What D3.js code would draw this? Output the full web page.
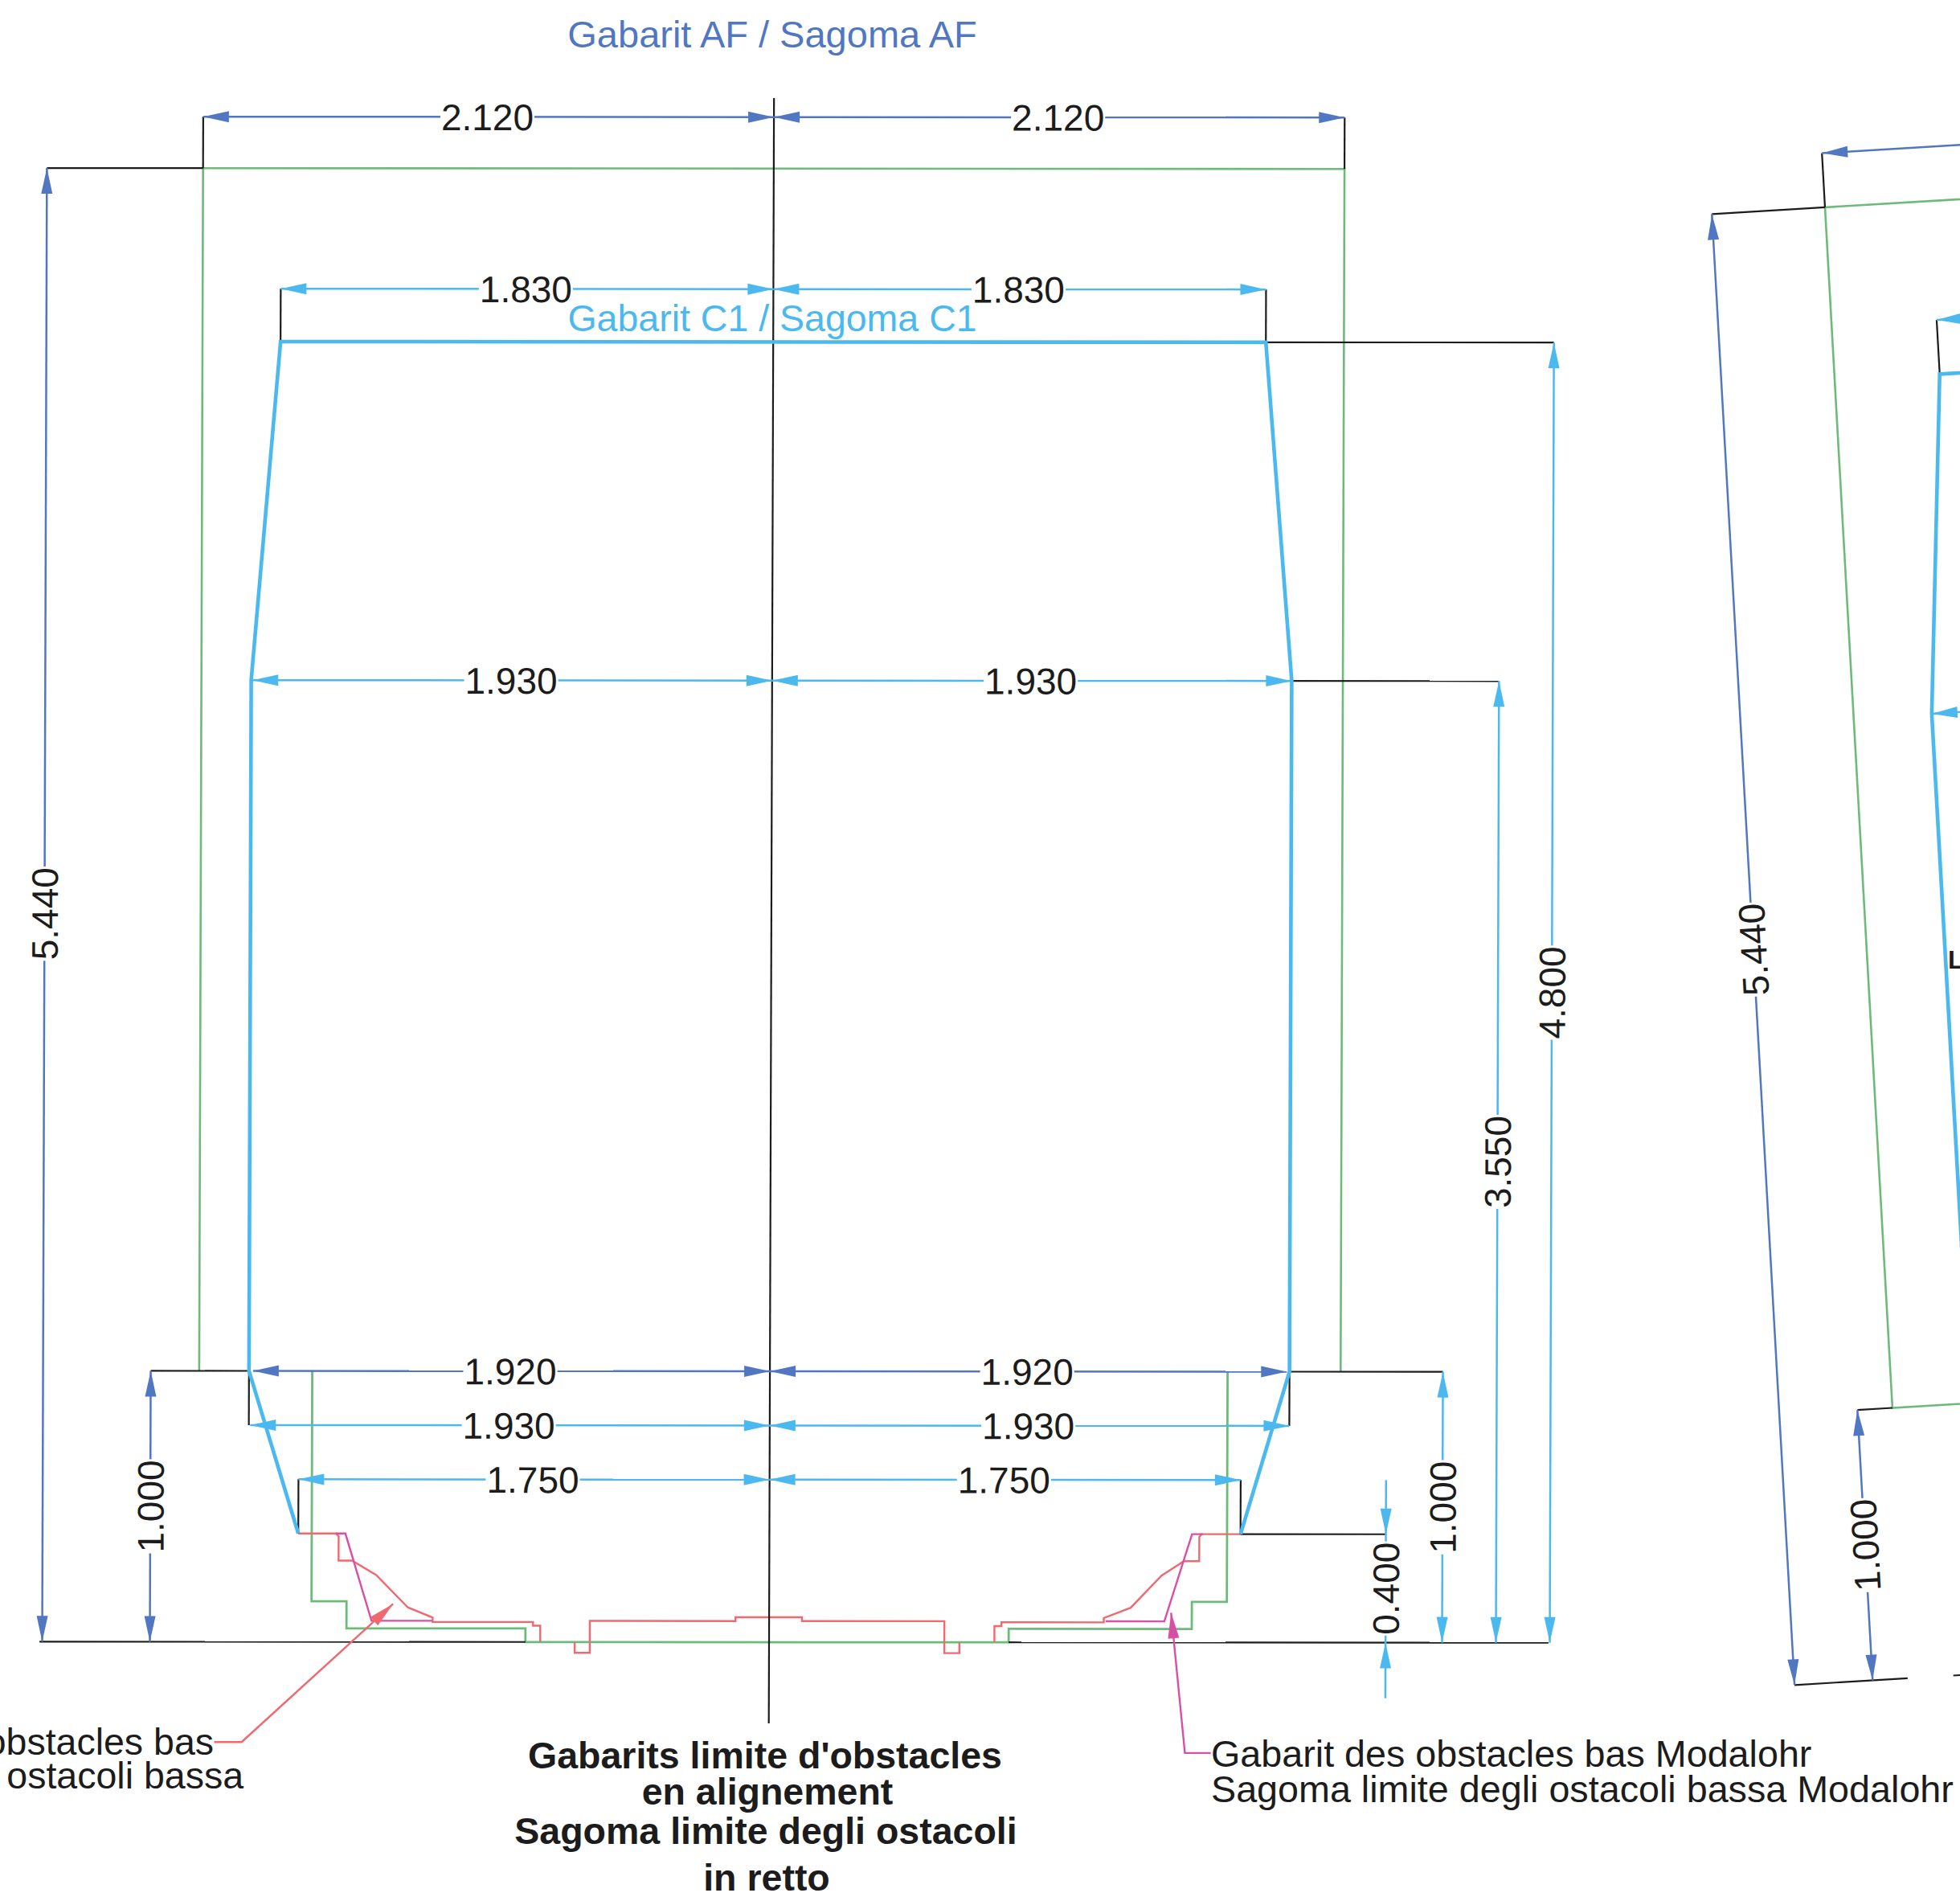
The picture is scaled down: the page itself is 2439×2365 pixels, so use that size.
<!DOCTYPE html>
<html>
<head>
<meta charset="utf-8">
<script src="https://d3js.org/d3.v7.min.js"></script>
<style>
  body { margin: 0; background: #fff; }
  svg { display: block; background: #fff; }
  text { font-family: "Liberation Sans", Arial, sans-serif; fill: #1c1c1c; }
  .outline { fill: none; stroke-linejoin: miter; }
  .num { font-size: 46px; text-anchor: middle; }
</style>
</head>
<body>
<svg id="canvas" width="2439" height="2365"></svg>
<script>
"use strict"

// all values in metres, half-width X from the track axis, height Y above the rail
const gabaritAF = [[-2.12, 1], [-2.12, 5.44], [2.12, 5.44], [2.12, 1]]
const gabaritC1 = [[-1.75, 0.4], [-1.935, 1], [-1.935, 3.55], [-1.83, 4.8], [1.83, 4.8], [1.93, 3.55], [1.93, 1], [1.75, 0.4]]
const lowGreen = [[-1.7, 1], [-1.7, 0.15], [-1.57, 0.15], [-1.57, 0.05], [-0.905, 0.05], [-0.905, 0], [0.89, 0], [0.89, 0.05], [1.57, 0.05], [1.57, 0.15], [1.7, 0.15], [1.7, 1]]
const lowRedLeft = [[-1.75, 0.4], [-1.61, 0.4], [-1.6, 0.39], [-1.6, 0.3], [-1.55, 0.3], [-1.46, 0.247], [-1.343, 0.128], [-1.25, 0.09], [-1.25, 0.074], [-0.877, 0.074], [-0.877, 0.06], [-0.85, 0.06], [-0.85, 0]]
const lowRedMiddle = [[-0.722, 0], [-0.722, -0.04], [-0.666, -0.04], [-0.666, 0.078], [-0.125, 0.078], [-0.125, 0.092], [0.122, 0.092], [0.122, 0.078], [0.651, 0.078], [0.651, -0.04], [0.707, -0.04], [0.707, 0]]
const lowRedRight = [[0.837, 0], [0.837, 0.06], [0.863, 0.06], [0.863, 0.074], [1.243, 0.074], [1.243, 0.09], [1.343, 0.128], [1.457, 0.247], [1.54, 0.3], [1.597, 0.3], [1.597, 0.39], [1.606, 0.4], [1.75, 0.4]]
const modalohrLeft = [[-1.61, 0.4], [-1.575, 0.4], [-1.477, 0.078], [-1.25, 0.078]]
const modalohrRight = [[1.25, 0.078], [1.468, 0.078], [1.57, 0.4], [1.61, 0.4]]

const blueWidths = [[2.12, 5.63, "2.120"], [1.92, 1, "1.920"]]
const cyanWidths = [[1.83, 4.995, "1.830"], [1.93, 3.55, "1.930"], [1.93, 0.8, "1.930"], [1.75, 0.6, "1.750"]]
const blueHeights = [[-2.7, 5.44, "5.440"], [-2.3, 1, "1.000"]]
const cyanHeights = [[2.9, 4.8, "4.800"], [2.7, 3.55, "3.550"], [2.5, 1, "1.000"]]
const extensionLines = [
  [[-2.7, 5.44], [-2.12, 5.44]], [[-2.12, 5.44], [-2.12, 5.63]], [[2.12, 5.44], [2.12, 5.63]],
  [[-1.83, 4.8], [-1.83, 4.995]], [[1.83, 4.8], [1.83, 4.995]], [[1.83, 4.8], [2.9, 4.8]],
  [[1.93, 3.55], [2.7, 3.55]], [[1.93, 1], [2.5, 1]], [[-2.3, 1], [-1.935, 1]],
  [[-1.935, 1], [-1.935, 0.8]], [[1.93, 1], [1.93, 0.8]],
  [[-1.75, 0.4], [-1.75, 0.6]], [[1.75, 0.4], [1.75, 0.6]], [[1.75, 0.4], [2.29, 0.4]],
  [[-2.71, 0], [-0.905, 0]], [[0.89, 0], [2.895, 0]], [[0, 5.7], [0, -0.3]],
]

// second drawing, the canted one, mostly cut off by the page edge
const cantAF = [[0, 1], [-2.12, 1], [-2.12, 5.44], [0, 5.44]]
const cantC1 = [[0, 4.8], [-1.73, 4.8], [-1.83, 3.55], [-1.83, 1]]
const cantBlueWidths = [[-2.12, 5.64]]
const cantCyanWidths = [[-1.73, 5], [-1.83, 3.55]]
const cantHeights = [[-2.54, 5.44, "5.440"], [-2.25, 1, "1.000"]]
const cantLines = [
  [[-2.54, 5.44], [-2.12, 5.44]], [[-2.12, 5.44], [-2.12, 5.64]], [[-1.73, 4.8], [-1.73, 5]],
  [[-2.25, 1], [-2.12, 1]], [[-2.54, 0], [-2.12, 0]], [[-1.95, 0], [-1, 0]],
]

const titleLines = ["Gabarits limite d'obstacles", "en alignement", "Sagoma limite degli ostacoli", "in retto"]
const noteLow = ["Gabarit des obstacles bas", "Sagoma limite degli ostacoli bassa"]
const noteModalohr = ["Gabarit des obstacles bas Modalohr", "Sagoma limite degli ostacoli bassa Modalohr"]

const BLUE = "#5277c2", CYAN = "#4bb9ef", GREEN = "#6dbb7a", RED = "#f0696f", MAGENTA = "#d94fa6", BLACK = "#1c1c1c"

const svg = d3.select("#canvas")

function projection(x0, y0, sx, sy, shear, tilt) {
  const x = d3.scaleLinear().domain([0, 1]).range([x0, x0 + sx])
  const y = d3.scaleLinear().domain([0, 1]).range([y0, y0 - sy])
  return ([X, Y]) => [x(X) + shear * Y, y(Y) + tilt * X]
}

const main = projection(957, 2043, 335, 337, 1.08, 0.25)
const cant = projection(3084, 2045.5, 335, 336.4, -18.9, -20)

function polyline(pts, proj, color, width) {
  svg.append("path")
    .attr("class", "outline")
    .attr("d", d3.line()(pts.map(proj)))
    .attr("stroke", color)
    .attr("stroke-width", width)
}

function arrowHead(tip, from, color) {
  const a = Math.atan2(from[1] - tip[1], from[0] - tip[0])
  const len = 32, half = 7
  const bx = tip[0] + len * Math.cos(a), by = tip[1] + len * Math.sin(a)
  const nx = -Math.sin(a) * half, ny = Math.cos(a) * half
  svg.append("path")
    .attr("d", d3.line()([tip, [bx + nx, by + ny], [bx - nx, by - ny]]) + "Z")
    .attr("fill", color)
}

// number in the middle of a dimension line, the line stops at the digits
function label(at, other, str, nudge) {
  const a = Math.atan2(other[1] - at[1], other[0] - at[0]) * 180 / Math.PI
  const shift = Math.abs(a) < 45 ? -1.5 : 0
  const mid = [(at[0] + other[0]) / 2 + shift, (at[1] + other[1]) / 2 + nudge]
  const g = svg.append("g").attr("transform", "translate(" + mid + ") rotate(" + a + ")")
  const rect = g.append("rect").attr("fill", "#fff")
  const text = g.append("text").attr("class", "num").attr("dy", "0.36em").text(str)
  const w = text.node().getComputedTextLength()
  rect.attr("x", -w / 2 - 1).attr("width", w + 2).attr("y", -6).attr("height", 12)
}

// a dimension with arrows pointing outward; labels are added afterwards so they sit on top
const pendingLabels = []
function dimension(p1, p2, proj, color, str, nudge = 0) {
  const a = proj(p1), b = proj(p2)
  polyline([p1, p2], proj, color, 2.5)
  arrowHead(a, b, color)
  arrowHead(b, a, color)
  if (str) pendingLabels.push(() => label(a, b, str, nudge))
}

function widths(rows, proj, color) {
  rows.forEach(([half, level, str]) => {
    dimension([-half, level], [0, level], proj, color, str)
    dimension([0, level], [half, level], proj, color, str)
  })
}

function heights(rows, proj, color, nudge = 0) {
  rows.forEach(([at, top, str]) => {
    dimension([at, 0], [at, top], proj, color, str, nudge)
  })
}

// ----- main drawing -----
polyline(gabaritAF, main, GREEN, 2.6)
polyline(lowGreen, main, GREEN, 2.8)
polyline(lowRedLeft, main, RED, 2.4)
polyline(lowRedMiddle, main, RED, 2.4)
polyline(lowRedRight, main, RED, 2.4)
polyline(modalohrLeft, main, MAGENTA, 2.4)
polyline(modalohrRight, main, MAGENTA, 2.4)
extensionLines.forEach(l => polyline(l, main, BLACK, 2.2))
polyline(gabaritC1, main, CYAN, 4.6)

widths(blueWidths, main, BLUE)
widths(cyanWidths, main, CYAN)
// the 5.440 number sits a little below the middle of its line
heights(blueHeights.slice(0, 1), main, BLUE, 11)
heights(blueHeights.slice(1), main, BLUE)
heights(cyanHeights, main, CYAN)

// the 0.400 dimension has its arrows outside the measure
polyline([[2.29, 0.6], [2.29, -0.205]], main, CYAN, 2.5)
arrowHead(main([2.29, 0.4]), main([2.29, 0.6]), CYAN)
arrowHead(main([2.29, 0]), main([2.29, -0.205]), CYAN)
pendingLabels.push(() => label(main([2.29, 0]), main([2.29, 0.4]), "0.400", 0))

// leaders of the two notes
polyline([[-2.06, -0.37], [-1.958, -0.37], [-1.397, 0.14]], main, RED, 2.4)
arrowHead(main([-1.397, 0.14]), main([-1.958, -0.37]), RED)
polyline([[1.642, -0.408], [1.546, -0.408], [1.493, 0.11]], main, MAGENTA, 2.4)
arrowHead(main([1.493, 0.11]), main([1.546, -0.408]), MAGENTA)

// ----- canted drawing -----
polyline(cantAF, cant, GREEN, 2.6)
cantLines.forEach(l => polyline(l, cant, BLACK, 2.2))
polyline(cantC1, cant, CYAN, 4.6)
cantBlueWidths.forEach(([X, level]) => dimension([X, level], [0, level], cant, BLUE))
cantCyanWidths.forEach(([X, level]) => dimension([X, level], [0, level], cant, CYAN))
heights(cantHeights, cant, BLUE)

pendingLabels.forEach(f => f())

// ----- texts -----
svg.append("text").attr("x", 961).attr("y", 59).attr("text-anchor", "middle")
  .style("font-size", "47px").style("fill", BLUE).text("Gabarit AF / Sagoma AF")
svg.append("text").attr("x", 961).attr("y", 412).attr("text-anchor", "middle")
  .style("font-size", "46.5px").style("fill", CYAN).text("Gabarit C1 / Sagoma C1")

svg.selectAll(".title").data(titleLines).enter().append("text")
  .attr("class", "title")
  .attr("x", (d, i) => [952, 955, 953, 954][i])
  .attr("y", (d, i) => [2200, 2245, 2294, 2352][i])
  .attr("text-anchor", "middle")
  .style("font-size", "46.5px").style("font-weight", "bold")
  .text(d => d)

svg.selectAll(".noteLow").data(noteLow).enter().append("text")
  .attr("class", "noteLow")
  .attr("x", (d, i) => [266, 303][i])
  .attr("y", (d, i) => 2183 + i * 42)
  .attr("text-anchor", "end")
  .style("font-size", "46.5px")
  .text(d => d)

svg.selectAll(".noteModalohr").data(noteModalohr).enter().append("text")
  .attr("class", "noteModalohr")
  .attr("x", 1507)
  .attr("y", (d, i) => 2198 + i * 44)
  .style("font-size", "46.7px")
  .text(d => d)

svg.append("text").attr("x", 2424).attr("y", 1205)
  .style("font-size", "32px").style("font-weight", "bold").text("L")
</script>
</body>
</html>
